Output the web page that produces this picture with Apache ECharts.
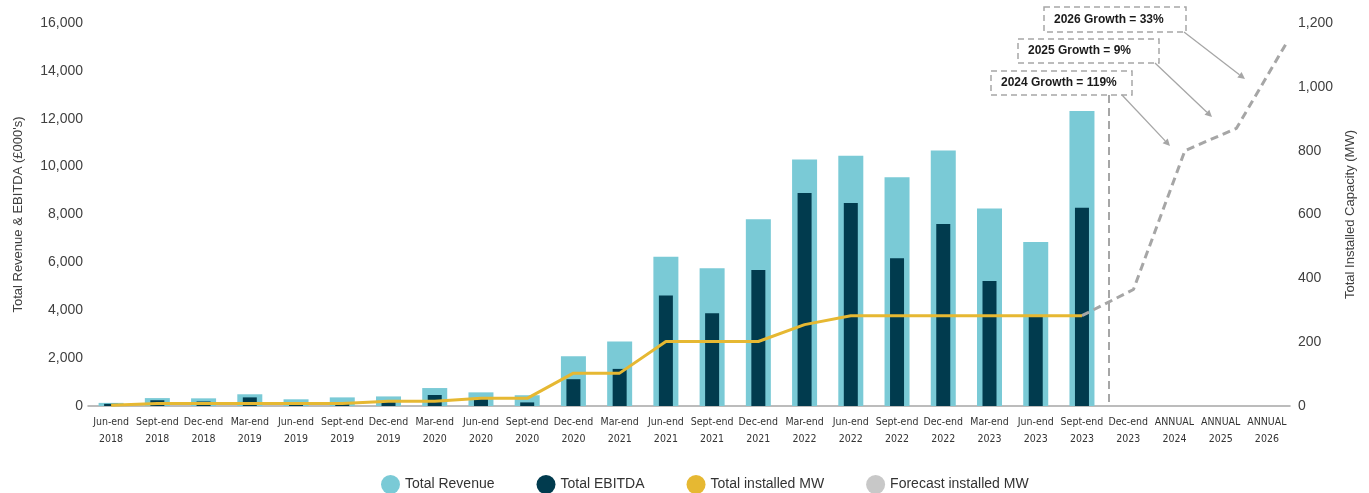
<!DOCTYPE html>
<html>
<head>
<meta charset="utf-8">
<script src="https://cdn.jsdelivr.net/npm/echarts@6/dist/echarts.min.js"></script>
<style>
  html, body { margin: 0; padding: 0; background: #fff; }
  #chart { width: 1369px; height: 493px; }
</style>
</head>
<body>
<div id="chart"></div>
<script>
// quarter ends, then annual forecast
const categories = [
  'Jun-end\n2018', 'Sept-end\n2018', 'Dec-end\n2018',
  'Mar-end\n2019', 'Jun-end\n2019', 'Sept-end\n2019', 'Dec-end\n2019',
  'Mar-end\n2020', 'Jun-end\n2020', 'Sept-end\n2020', 'Dec-end\n2020',
  'Mar-end\n2021', 'Jun-end\n2021', 'Sept-end\n2021', 'Dec-end\n2021',
  'Mar-end\n2022', 'Jun-end\n2022', 'Sept-end\n2022', 'Dec-end\n2022',
  'Mar-end\n2023', 'Jun-end\n2023', 'Sept-end\n2023', 'Dec-end\n2023',
  'ANNUAL\n2024', 'ANNUAL\n2025', 'ANNUAL\n2026'
];
const revenue = [130, 330, 320, 490, 280, 360, 400, 750, 570, 450, 2080, 2690,
  6230, 5750, 7800, 10300, 10450, 9560, 10670, 8250, 6850, 12320, null, null, null, null];
const ebitda = [90, 240, 190, 360, 100, 110, 200, 460, 290, 150, 1120, 1550,
  4620, 3870, 5680, 8900, 8480, 6170, 7600, 5220, 3750, 8280, null, null, null, null];
const installedMW = [2, 8, 8, 8, 8, 8, 15, 15, 24, 24, 103, 103,
  202, 202, 202, 255, 283, 283, 283, 283, 283, 283, null, null, null, null];
// forecast: Sept-end 2023, Dec-end 2023, 2024, 2025, 2026
const forecastMW = [283, 365, 800, 870, 1145];
const leftTicks = { min: 0, max: 16000, interval: 2000 };
const rightTicks = { min: 0, max: 1200, interval: 200 };
const growthNotes = ['2024 Growth = 119%', '2025 Growth = 9%', '2026 Growth = 33%'];

const GREY = '#a6a6a6';
const fmt = v => v.toLocaleString('en-US');

function arrow(x1, y1, x2, y2) {
  const a = Math.atan2(y2 - y1, x2 - x1), L = 7, W = 3.5;
  const bx = x2 - L * Math.cos(a), by = y2 - L * Math.sin(a);
  return [
    { type: 'line', z: 20, shape: { x1, y1, x2: bx, y2: by }, style: { stroke: GREY, lineWidth: 1.3 } },
    { type: 'polygon', z: 20, shape: { points: [[x2, y2],
        [bx + W * Math.sin(a), by - W * Math.cos(a)],
        [bx - W * Math.sin(a), by + W * Math.cos(a)]] }, style: { fill: GREY } }
  ];
}
function noteBox(x, y, w, h, text) {
  return [
    { type: 'rect', z: 20, shape: { x, y, width: w, height: h },
      style: { fill: '#fff', stroke: GREY, lineWidth: 1.5, lineDash: [6, 4] } },
    { type: 'text', z: 21, x: x + 10, y: y + h / 2,
      style: { text, fill: '#1a1a1a', font: 'bold 12px "Liberation Sans", Arial, sans-serif',
        verticalAlign: 'middle', align: 'left' } }
  ];
}

const chart = echarts.init(document.getElementById('chart'));
const option = {
  animation: false,
  grid: { left: 88, right: 79, top: 23, bottom: 87 },
  legend: {
    left: 376, top: 470, icon: 'circle', itemWidth: 19, itemHeight: 19, itemGap: 42,
    textStyle: { fontFamily: '"Liberation Sans", Arial, sans-serif', fontSize: 14, color: '#333' },
    data: [
      { name: 'Total Revenue' },
      { name: 'Total EBITDA' },
      { name: 'Total installed MW' },
      { name: 'Forecast installed MW', itemStyle: { color: '#c8c8c8' } }
    ]
  },
  xAxis: [
    {
      type: 'category', data: categories,
      axisLine: { lineStyle: { color: GREY, width: 1.5 } },
      axisTick: { show: false },
      axisLabel: { interval: 0, margin: 8, color: '#333', fontSize: 10.5, lineHeight: 17,
        fontFamily: '"DejaVu Sans Condensed", "Liberation Sans Narrow", Arial, sans-serif' }
    },
    { type: 'category', data: categories, show: false },
    { type: 'value', min: -19.3, max: 4.04, show: false }
  ],
  yAxis: [
    {
      type: 'value', ...leftTicks,
      name: "Total Revenue & EBITDA (£000's)", nameLocation: 'middle', nameGap: 63,
      nameTextStyle: { fontSize: 13, color: '#404040', fontFamily: '"Liberation Sans", Arial, sans-serif' },
      splitLine: { show: false }, axisLine: { show: false }, axisTick: { show: false },
      axisLabel: { formatter: fmt, fontSize: 14, color: '#404040', margin: 5,
        fontFamily: '"Liberation Sans", Arial, sans-serif' }
    },
    {
      type: 'value', ...rightTicks, position: 'right',
      name: 'Total Installed Capacity (MW)', nameLocation: 'middle', nameGap: 50,
      nameTextStyle: { fontSize: 13, color: '#404040', fontFamily: '"Liberation Sans", Arial, sans-serif' },
      splitLine: { show: false }, axisLine: { show: false }, axisTick: { show: false },
      axisLabel: { formatter: fmt, fontSize: 14, color: '#404040', margin: 8,
        fontFamily: '"Liberation Sans", Arial, sans-serif' }
    }
  ],
  series: [
    { name: 'Total Revenue', type: 'bar', xAxisIndex: 0, yAxisIndex: 0, barWidth: 25,
      itemStyle: { color: '#7acad6' }, data: revenue },
    { name: 'Total EBITDA', type: 'bar', xAxisIndex: 1, yAxisIndex: 0, barWidth: 14, z: 3,
      itemStyle: { color: '#013b4e' }, data: ebitda },
    { name: 'Total installed MW', type: 'line', xAxisIndex: 0, yAxisIndex: 1, z: 6,
      showSymbol: false, symbol: 'circle', itemStyle: { color: '#e6b832' },
      lineStyle: { color: '#e6b832', width: 3 }, data: installedMW },
    { name: 'Forecast installed MW', type: 'line', xAxisIndex: 2, yAxisIndex: 1, z: 5,
      showSymbol: false, symbol: 'circle', itemStyle: { color: '#c8c8c8' },
      lineStyle: { color: GREY, width: 3, type: [8, 5] },
      data: forecastMW.map((v, i) => [i, v]) }
  ],
  graphic: [
    { type: 'line', z: 4, shape: { x1: 1109, y1: 95, x2: 1109, y2: 405 },
      style: { stroke: GREY, lineWidth: 2, lineDash: [8, 5] } },
    ...noteBox(991, 71, 141, 24, growthNotes[0]),
    ...noteBox(1018, 39, 141, 24, growthNotes[1]),
    ...noteBox(1044, 7, 142, 25, growthNotes[2]),
    ...arrow(1122, 95, 1170, 146),
    ...arrow(1155, 63, 1212, 117),
    ...arrow(1184, 32, 1245, 79)
  ]
};
chart.setOption(option);
</script>
</body>
</html>
